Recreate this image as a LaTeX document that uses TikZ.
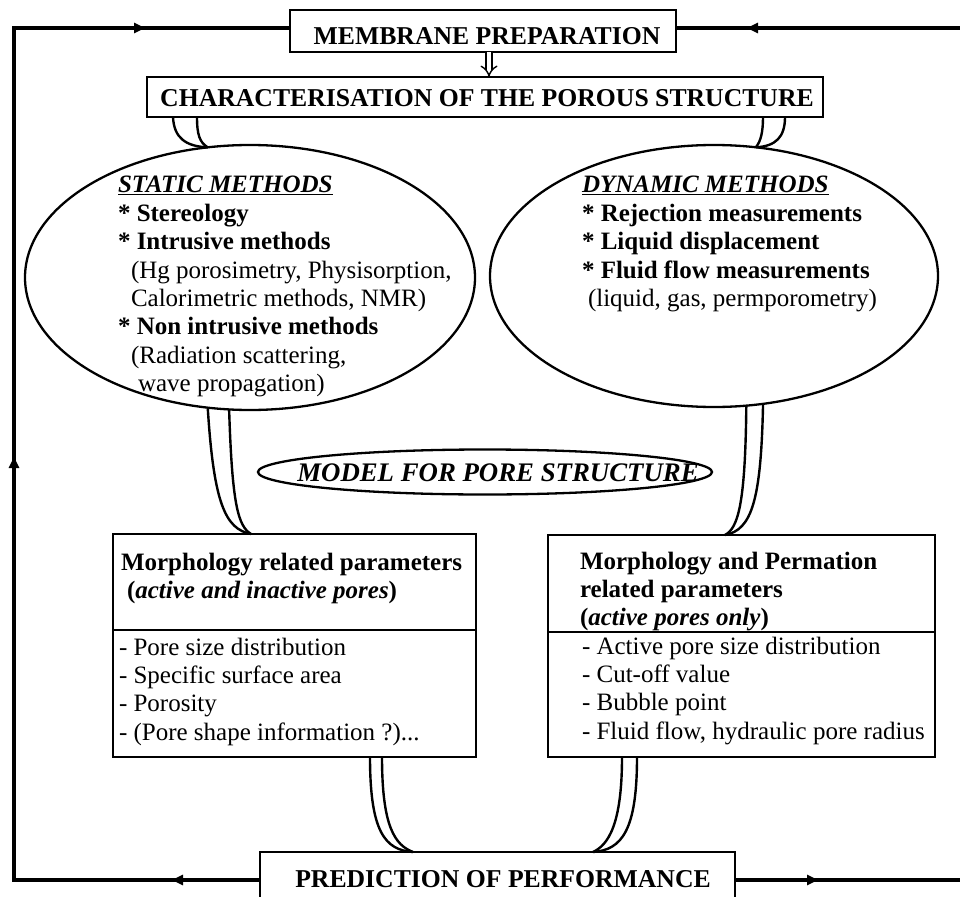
\documentclass[tikz,border=0pt]{standalone}
\usepackage{fontspec}
\setmainfont{Liberation Serif}
\usetikzlibrary{shapes.geometric,arrows.meta,decorations.markings,calc}

\begin{document}
\begin{tikzpicture}[x=1pt,y=-1pt,
  every node/.style={inner sep=0pt, outer sep=0pt},
  txt/.style={font=\fontsize{25}{28.4}\selectfont},
  headtxt/.style={font=\fontsize{25.7}{28.4}\selectfont\bfseries},
  headbox/.style={draw, line width=2.8pt, anchor=north west},
  parbox/.style={draw, line width=2.5pt, anchor=north west},
  oval/.style={draw, ellipse, line width=2.3pt},
  feed/.style={line width=2.4pt},
  loopline/.style={line width=4pt, postaction={decorate}},
  flowtip/.tip={Triangle[length=11pt,width=10pt]},
]
\useasboundingbox (0,0) rectangle (960,896);

% ---- header boxes ----
\node[headbox, minimum width=386pt, minimum height=42pt] (mem) at (290,10) {};
\node[headtxt, anchor=base] (memtext) at (487,45) {MEMBRANE PREPARATION};
\node[headbox, minimum width=676pt, minimum height=40pt] (char) at (147,77) {};
\node[headtxt, anchor=base] (chartext) at (487,107) {CHARACTERISATION OF THE POROUS STRUCTURE};

% hollow double arrow between the two header boxes
\draw[line width=1.4pt, double distance=4.5pt, -{Implies}]
  ($(mem.south west)+(199,0)$) -- ($(char.north west)+(342,0)$);

% ---- method ellipses ----
\node[oval, minimum width=450pt, minimum height=265pt] (stat) at (250,277.5) {};
\node[oval, minimum width=448pt, minimum height=262pt] (dyn) at (714,276) {};

\node[txt, anchor=base west] (stattext) at (118,193) {\begin{tabular}[t]{@{}l@{}}
\underline{\textbf{\textit{STATIC METHODS}}}\\
\textbf{* Stereology}\\
\textbf{* Intrusive methods}\\
\hspace{13pt}(Hg porosimetry, Physisorption,\\
\hspace{13pt}Calorimetric methods, NMR)\\
\textbf{* Non intrusive methods}\\
\hspace{13pt}(Radiation scattering,\\
\hspace{20pt}wave propagation)
\end{tabular}};

\node[txt, anchor=base west] (dyntext) at (582,193) {\begin{tabular}[t]{@{}l@{}}
\underline{\textbf{\textit{DYNAMIC METHODS}}}\\
\textbf{* Rejection measurements}\\
\textbf{* Liquid displacement}\\
\textbf{* Fluid flow measurements}\\
\hspace{6pt}(liquid, gas, permporometry)
\end{tabular}};

% ---- model ellipse ----
\node[oval, minimum width=454pt, minimum height=45pt] (model) at (485,472) {};
\node[anchor=base, font=\fontsize{26.8}{30}\selectfont\bfseries\itshape] (modeltext) at (498,481) {MODEL FOR PORE STRUCTURE};

% ---- parameter boxes ----
\node[parbox, minimum width=363pt, minimum height=223pt] (lbox) at (113,534) {};
\draw[line width=2pt] ($(lbox.north west)+(0,96)$) -- ($(lbox.north east)+(0,96)$);
\node[txt, anchor=base west] (lhead) at (121,570) {\begin{tabular}[t]{@{}l@{}}
\textbf{Morphology related parameters}\\
\hspace{6pt}\textbf{(\textit{active and inactive pores})}
\end{tabular}};
\node[txt, anchor=base west] (llist) at (119,655) {\begin{tabular}[t]{@{}l@{}}
- Pore size distribution\\
- Specific surface area\\
- Porosity\\
- (Pore shape information ?)...
\end{tabular}};

\node[parbox, minimum width=387pt, minimum height=222pt] (rbox) at (548,535) {};
\draw[line width=2pt] ($(rbox.north west)+(0,97)$) -- ($(rbox.north east)+(0,97)$);
\node[txt, anchor=base west] (rhead) at (580,569) {\begin{tabular}[t]{@{}l@{}}
\textbf{Morphology and Permation}\\
\textbf{related parameters}\\
\textbf{(\textit{active pores only})}
\end{tabular}};
\node[txt, anchor=base west] (rlist) at (582,654) {\begin{tabular}[t]{@{}l@{}}
- Active pore size distribution\\
- Cut-off value\\
- Bubble point\\
- Fluid flow, hydraulic pore radius
\end{tabular}};

% ---- performance box ----
\node[headbox, minimum width=475pt, minimum height=56pt] (pred) at (260,852) {};
\node[headtxt, anchor=base] (predtext) at (503,887) {PREDICTION OF PERFORMANCE};

% ---- double-line feeders ----
\coordinate (ca) at ($(char.south west)+(26,0)$);
\coordinate (cb) at ($(char.south west)+(50,0)$);
\coordinate (cc) at ($(char.south west)+(616,0)$);
\coordinate (cd) at ($(char.south west)+(638,0)$);
\draw[feed] (ca) .. controls +(1,21) and +(-22,-1) .. (stat.108);
\draw[feed] (cb) .. controls +(0,18) and +(-8,-5) .. (stat.108);
\draw[feed] (cd) .. controls +(0,20) and +(20,-1) .. (dyn.72);
\draw[feed] (cc) .. controls +(0,15) and +(5,-6) .. (dyn.72);

\coordinate (ml) at ($(lbox.north west)+(138,0)$);
\coordinate (mr) at ($(rbox.north west)+(177,0)$);
\draw[feed] (stat.252) .. controls +(6,95) and +(-26,-5) .. (ml);
\draw[feed] (stat.261) .. controls +(3,95) and +(-13,-8) .. (ml);
\draw[feed] (dyn.291) .. controls +(-2,96) and +(27,-5) .. (mr);
\draw[feed] (dyn.284) .. controls +(-1,99) and +(13,-7) .. (mr);

\coordinate (la) at ($(lbox.south west)+(257,0)$);
\coordinate (lb) at ($(lbox.south west)+(269,0)$);
\coordinate (ra) at ($(rbox.south west)+(74,0)$);
\coordinate (rb) at ($(rbox.south west)+(89,0)$);
\coordinate (pl) at ($(pred.north west)+(153,0)$);
\coordinate (pr) at ($(pred.north west)+(333,0)$);
\draw[feed] (la) .. controls +(0,75) and +(-28,-2) .. (pl);
\draw[feed] (lb) .. controls +(0,70) and +(-18,-7) .. (pl);
\draw[feed] (rb) .. controls +(0,73) and +(29,-2) .. (pr);
\draw[feed] (ra) .. controls +(0,68) and +(15,-7) .. (pr);

% ---- feedback loop ----
\coordinate (tl) at (14,28);
\coordinate (bl) at (14,880);
\coordinate (tr) at (960,28);
\coordinate (br) at (960,880);
\draw[loopline, decoration={markings,
    mark=at position 88pt with {\arrow{flowtip}},
    mark=at position 669pt with {\arrow{flowtip}},
    mark=at position 1229pt with {\arrow{flowtip}}}]
  (pred.west |- bl) -- (bl) -- (tl) -- (mem.west |- tl);
\draw[loopline, decoration={markings, mark=at position 213pt with {\arrow{flowtip}}}]
  (tr) -- (mem.east |- tr);
\draw[loopline, decoration={markings, mark=at position 83pt with {\arrow{flowtip}}}]
  (pred.east |- br) -- (br);
\end{tikzpicture}
\end{document}
